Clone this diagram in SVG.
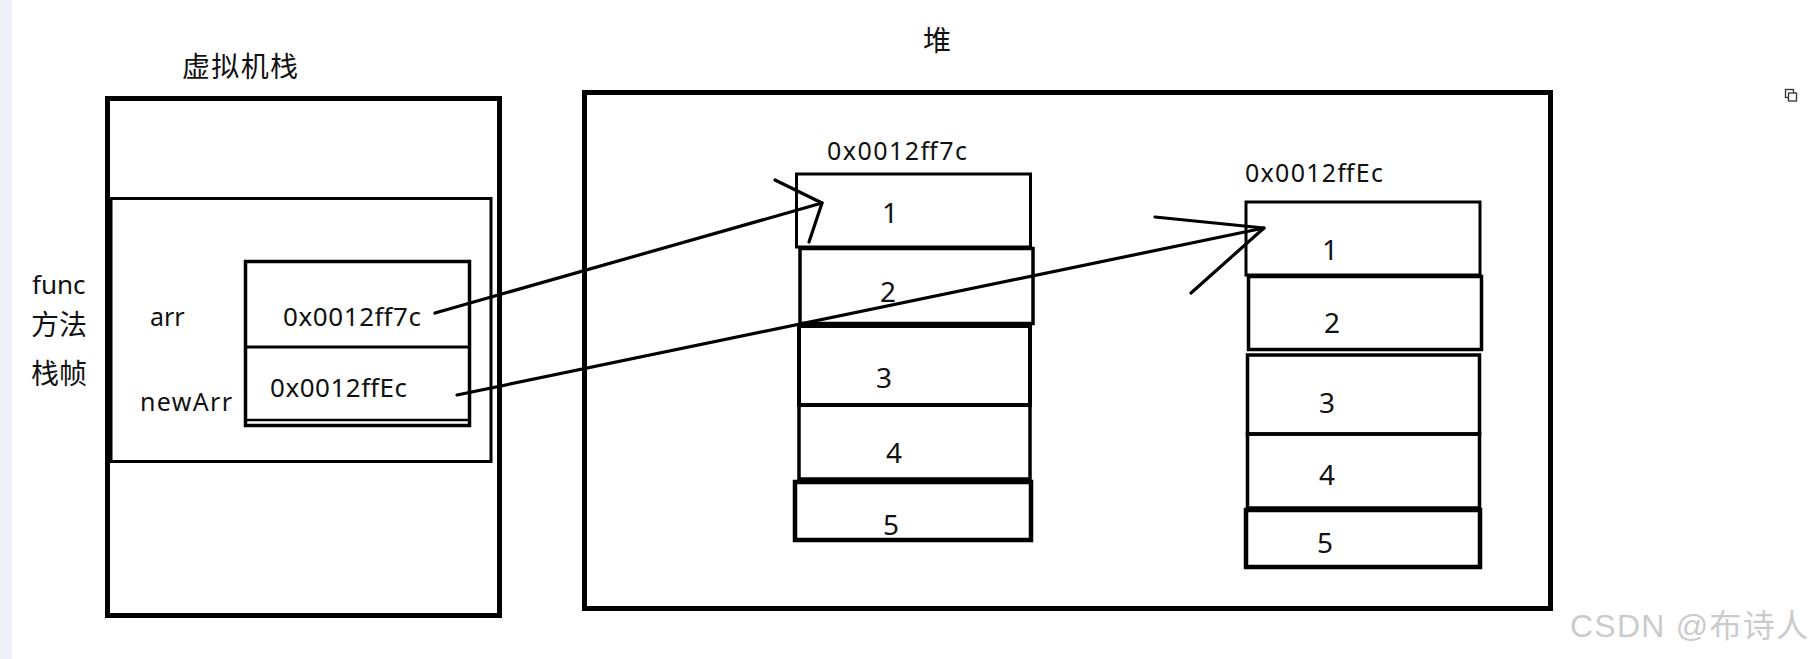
<svg xmlns="http://www.w3.org/2000/svg" width="1814" height="659" viewBox="0 0 1814 659">
<style>
.box{fill:none;stroke:#000;}
.t{font-family:"Noto Sans","Liberation Sans",sans-serif;fill:#111;}
.cn{font-family:"Noto Sans CJK SC","Noto Sans",sans-serif;fill:#111;}
.num{font-family:"Noto Sans","Liberation Sans",sans-serif;fill:#111;font-size:28px;text-anchor:middle;}
.ln{fill:none;stroke:#000;stroke-width:3.2;stroke-linecap:round;stroke-linejoin:round;}
</style>
<rect x="0" y="0" width="1814" height="659" fill="#ffffff"/>
<rect x="0" y="0" width="12" height="659" fill="#eef2f6"/>

<g id="stack-title"><text class="cn" x="182" y="77" font-size="28" textLength="116">虚拟机栈</text></g>
<g id="heap-title"><text class="cn" x="923" y="51" font-size="28">堆</text></g>

<g id="stack">
<rect class="box" x="107.5" y="98.5" width="392" height="517" stroke-width="5"/>
</g>
<g id="frame">
<rect class="box" x="111" y="198.5" width="380" height="263" stroke-width="3"/>
<text class="t" x="32" y="294" font-size="26">func</text>
<text class="cn" x="31" y="335" font-size="28">方法</text>
<text class="cn" x="31" y="384" font-size="28">栈帧</text>
</g>
<g id="vars">
<rect class="box" x="245.5" y="261.5" width="224" height="164" stroke-width="3.5"/>
<line class="box" x1="245" y1="347" x2="469" y2="347" stroke-width="3"/>
<line class="box" x1="247" y1="420" x2="469" y2="420" stroke-width="2.5"/>
<text class="t" x="150" y="326" font-size="25">arr</text>
<text class="t" x="140" y="411" font-size="25" textLength="92">newArr</text>
<text class="t" x="283" y="326" font-size="26" textLength="138">0x0012ff7c</text>
<text class="t" x="270" y="397" font-size="26" textLength="137">0x0012ffEc</text>
</g>

<g id="heap">
<rect class="box" x="584.5" y="92.5" width="966" height="516" stroke-width="5"/>
</g>

<g id="array1">
<text class="t" x="827" y="160" font-size="25" textLength="140">0x0012ff7c</text>
<rect class="box" x="796.5" y="174" width="234" height="73" stroke-width="3"/>
<rect class="box" x="800" y="248.5" width="233" height="75" stroke-width="3.5"/>
<rect class="box" x="799" y="326" width="231" height="79" stroke-width="4"/>
<rect class="box" x="799" y="405" width="231" height="74" stroke-width="3.5"/>
<rect class="box" x="795" y="482" width="236" height="58" stroke-width="4.5"/>
<text class="num" x="890" y="223">1</text>
<text class="num" x="888" y="302">2</text>
<text class="num" x="884" y="388">3</text>
<text class="num" x="894" y="463">4</text>
<text class="num" x="891" y="535">5</text>
</g>

<g id="array2">
<text class="t" x="1245" y="182" font-size="25" textLength="138">0x0012ffEc</text>
<rect class="box" x="1246" y="202" width="234" height="73" stroke-width="3"/>
<rect class="box" x="1248.5" y="276.5" width="233" height="73" stroke-width="3.5"/>
<rect class="box" x="1247.5" y="355" width="232" height="79" stroke-width="3.5"/>
<rect class="box" x="1247.5" y="434" width="232" height="74" stroke-width="3.5"/>
<rect class="box" x="1246" y="510" width="234" height="57" stroke-width="4.5"/>
<text class="num" x="1330" y="260">1</text>
<text class="num" x="1332" y="333">2</text>
<text class="num" x="1327" y="413">3</text>
<text class="num" x="1327" y="485">4</text>
<text class="num" x="1325" y="553">5</text>
</g>

<g id="connectors">
<polyline class="ln" points="435,313 822,203"/>
<polyline class="ln" points="775,180 822,203 809,242"/>
<polyline class="ln" points="457,395 1264,228"/>
<polyline class="ln" points="1155,217 1264,228 1191,293"/>
</g>

<g id="icon">
<rect x="1785.5" y="89.5" width="8" height="8" fill="#fff" stroke="#333" stroke-width="1.3"/>
<rect x="1788.5" y="93" width="8" height="8" fill="#fff" stroke="#333" stroke-width="1.3"/>
</g>
<g id="watermark">
<text x="1570" y="637" font-family="'Liberation Sans','Noto Sans CJK SC',sans-serif" font-size="32" fill="#cbcbcb" textLength="238">CSDN @布诗人</text>
</g>
</svg>
